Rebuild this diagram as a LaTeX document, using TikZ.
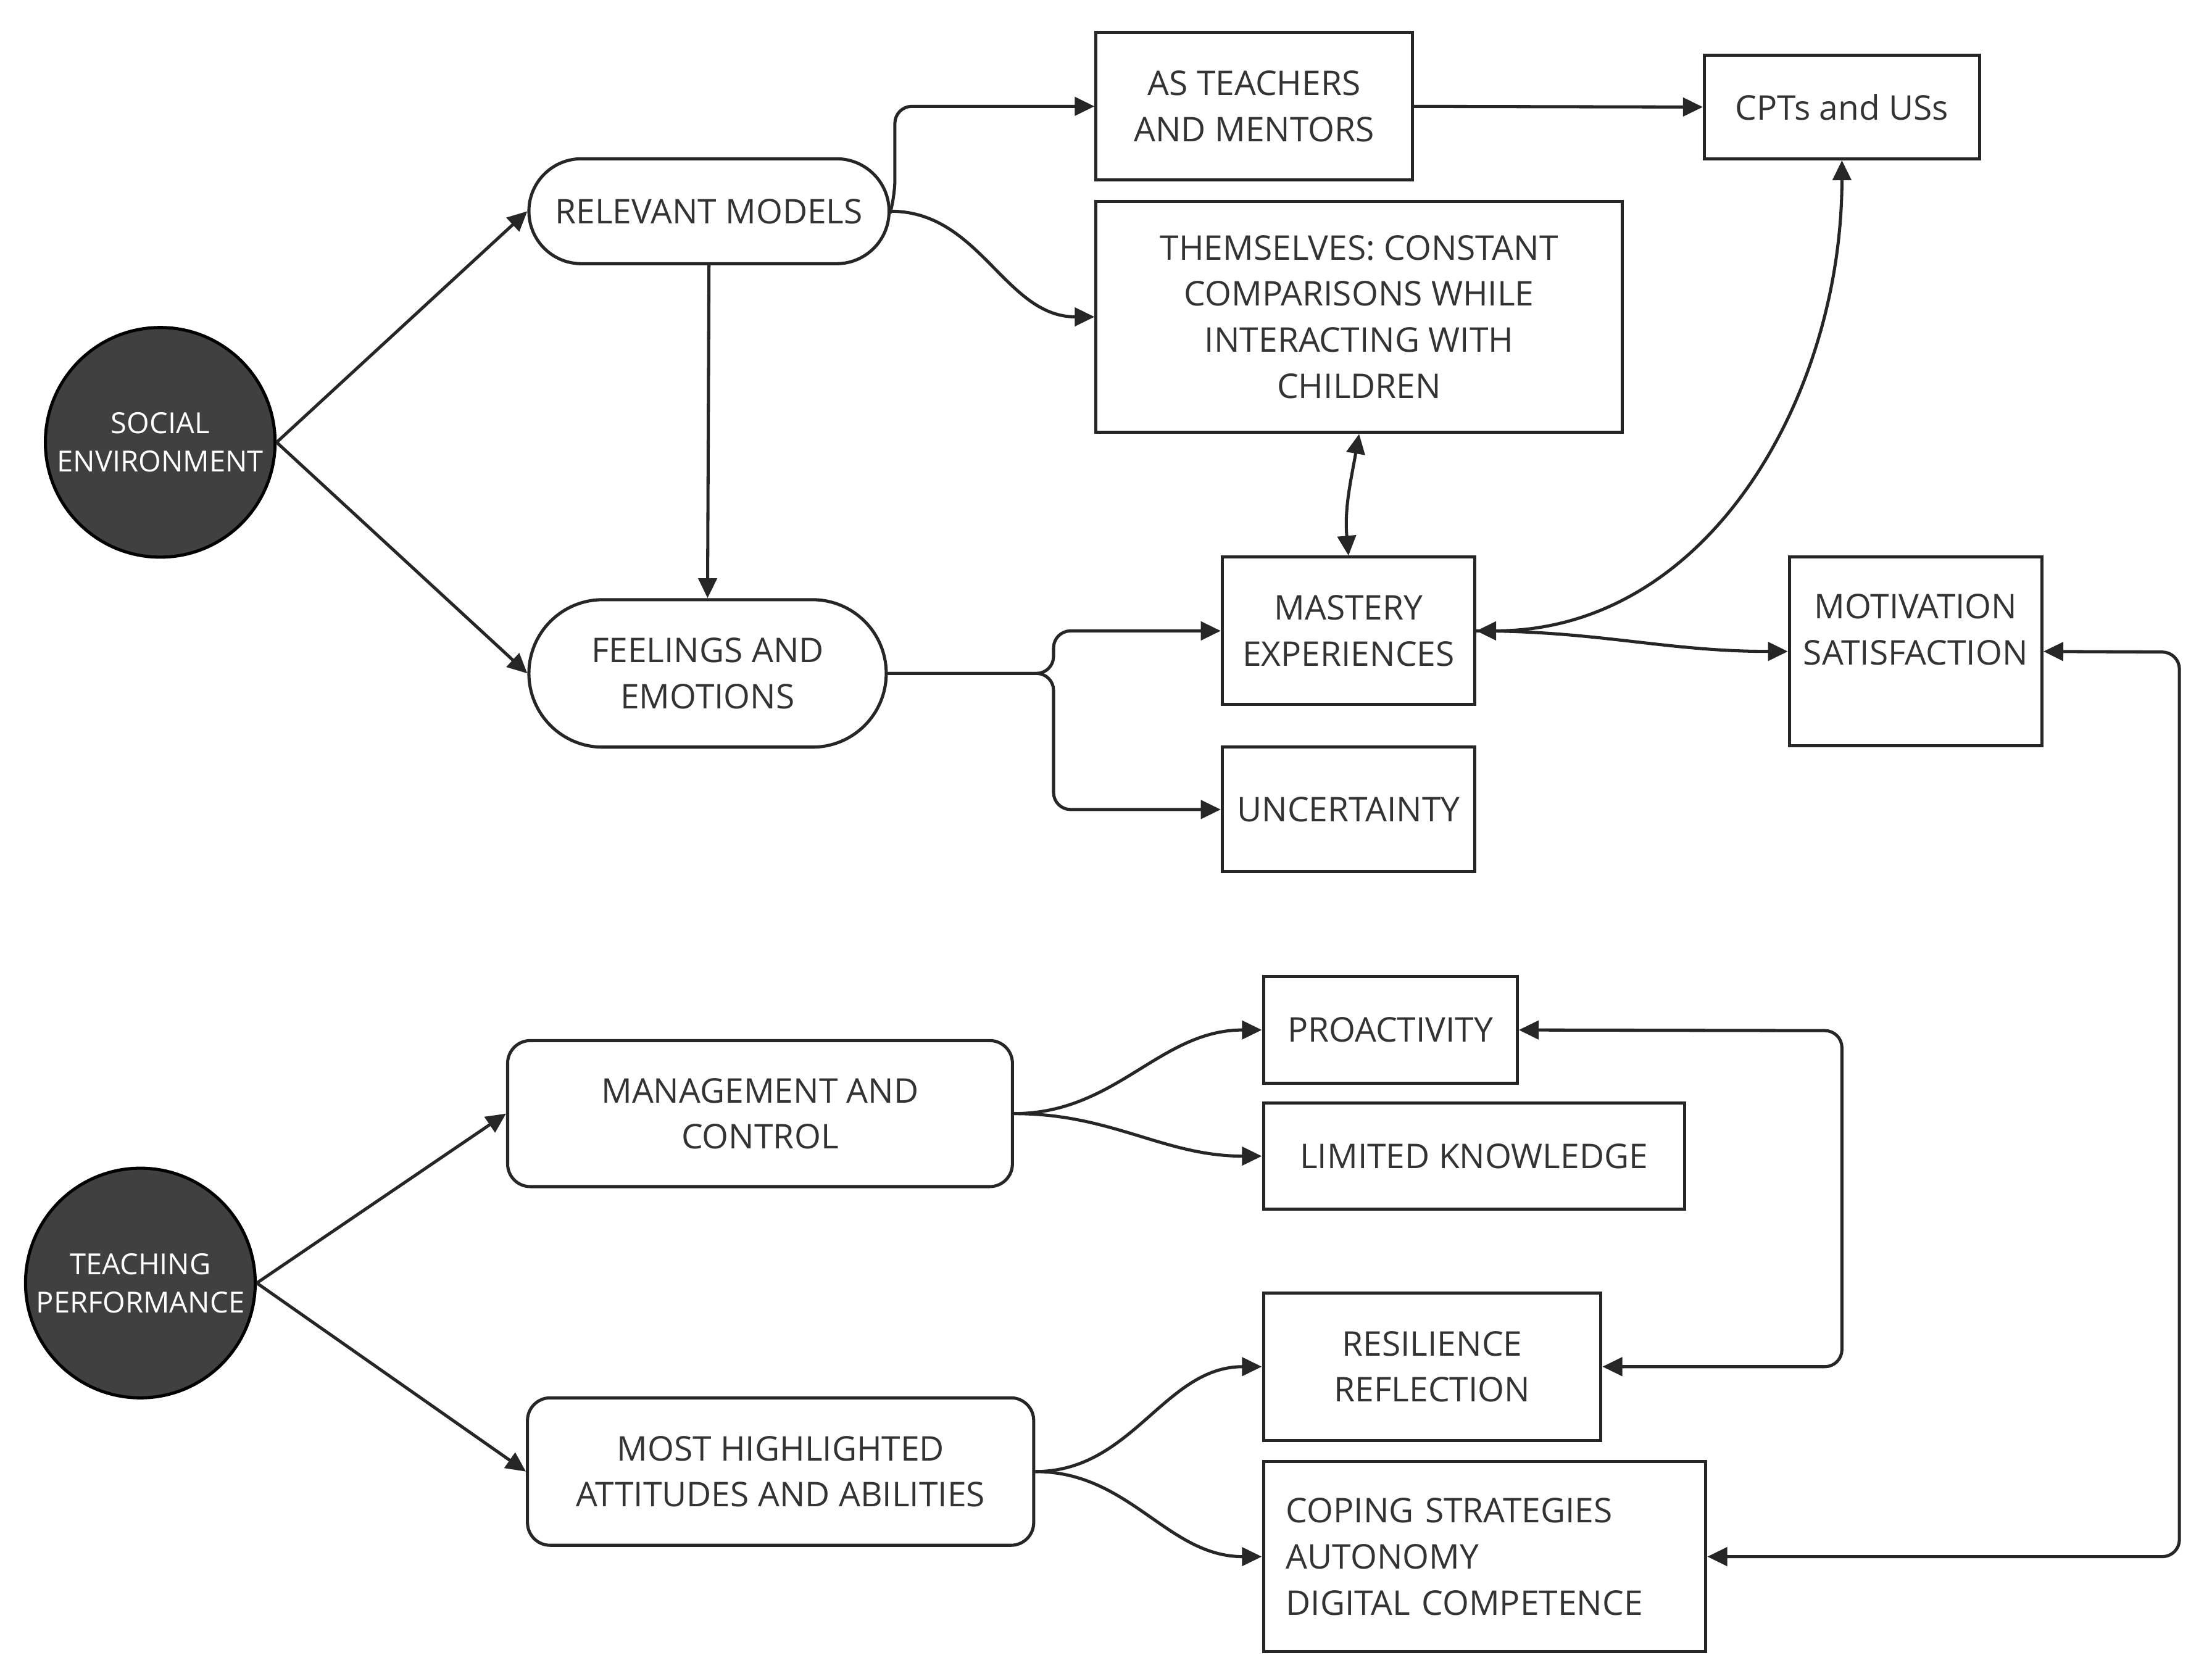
\documentclass[tikz,border=0pt]{standalone}
\usepackage{fontspec}
\setmainfont{Open Sans}
\usetikzlibrary{arrows.meta}
\begin{document}
\begin{tikzpicture}[x=1pt,y=-1pt,
  every node/.style={font=\fontsize{24}{32.5}\selectfont, text=black!80, inner sep=0pt, align=center},
  box/.style={draw=black!85, line width=2.2pt},
  rbox/.style={box, rounded corners=16pt},
  circ/.style={circle, fill=black!75, draw=black, line width=2.2pt, minimum size=162pt, text=white, font=\fontsize{20.5}{27}\selectfont},
  con/.style={line width=2.2pt, draw=black!85, -{Triangle[length=14pt,width=13pt]}},
  bi/.style={con, {Triangle[length=14pt,width=13pt]}-{Triangle[length=14pt,width=13pt]}}]
\useasboundingbox (0,0) rectangle (1560,1173);
\node[circ] (se) at (113,312) {SOCIAL\\ENVIRONMENT};
\node[circ] (tp) at (99,905) {TEACHING\\PERFORMANCE};
\node[rbox, rounded corners=37pt, minimum width=254pt, minimum height=74pt] (rm) at (500,149) {RELEVANT MODELS};
\node[rbox, rounded corners=52pt, minimum width=252pt, minimum height=104pt] (fe) at (499,475) {FEELINGS AND\\EMOTIONS};
\node[box, minimum width=223pt, minimum height=104pt] (at) at (884.5,75) {AS TEACHERS\\AND MENTORS};
\node[box, minimum width=194pt, minimum height=73pt] (cpt) at (1299,75.5) {CPTs and USs};
\node[box, minimum width=371pt, minimum height=163pt] (th) at (958.5,223.5) {THEMSELVES: CONSTANT\\COMPARISONS WHILE\\INTERACTING WITH\\CHILDREN};
\node[box, minimum width=178pt, minimum height=104pt] (me) at (951,445) {MASTERY\\EXPERIENCES};
\node[box, minimum width=178pt, minimum height=88pt] (un) at (951,571) {UNCERTAINTY};
\node[box, minimum width=178pt, minimum height=133pt] (mo) at (1351,459.5) {};
\node at (1351,444) {MOTIVATION\\SATISFACTION};
\node[rbox, minimum width=356pt, minimum height=103pt] (mc) at (536,785.5) {MANAGEMENT AND\\CONTROL};
\node[rbox, minimum width=357pt, minimum height=104pt] (mh) at (550.5,1038) {MOST HIGHLIGHTED\\ATTITUDES AND ABILITIES};
\node[box, minimum width=179pt, minimum height=75pt] (pr) at (980.5,726.5) {PROACTIVITY};
\node[box, minimum width=297pt, minimum height=75pt] (lk) at (1039.5,815.5) {LIMITED KNOWLEDGE};
\node[box, minimum width=312pt, minimum height=134pt, align=left, text width=280pt] (co) at (1047,1098) {COPING STRATEGIES\\AUTONOMY\\DIGITAL COMPETENCE};
\node[box, minimum width=238pt, minimum height=104pt] (re) at (1010,964) {RESILIENCE\\REFLECTION};

\draw[con] (se.east) -- (rm.west);
\draw[con] (se.east) -- (fe.west);
\draw[con, rounded corners=12pt] (rm.east) -- ++(3,-10) |- (at.west);
\draw[con] (rm.east) to[out=0,in=180] (th.west);
\draw[con] (rm.south) -- (fe.north);
\draw[con] (at.east) -- (cpt.west);
\draw[bi] (th.south) to[out=-100,in=95] (me.north);
\coordinate (j) at (743,475);
\draw[con, rounded corners=12pt] (fe.east) -- (j) |- (me.west);
\draw[con, rounded corners=12pt] (fe.east) -- (j) |- (un.west);
\draw[bi] (me.east) to[out=0,in=-90] (cpt.south);
\draw[con] (me.east) to[out=0,in=180] (mo.west);
\coordinate (r1) at (1537,460);
\draw[bi, rounded corners=12pt] (co.east) -| (r1) -- (mo.east);
\draw[bi, rounded corners=12pt] (pr.east) -- (1299,727) -- (1299,964) -- (re.east);
\draw[con] (tp.east) -- (mc.west);
\draw[con] (tp.east) -- (mh.west);
\draw[con] (mc.east) to[out=0,in=180] (pr.west);
\draw[con] (mc.east) to[out=0,in=180] (lk.west);
\draw[con] (mh.east) to[out=0,in=180] (re.west);
\draw[con] (mh.east) to[out=0,in=180] (co.west);
\end{tikzpicture}
\end{document}
